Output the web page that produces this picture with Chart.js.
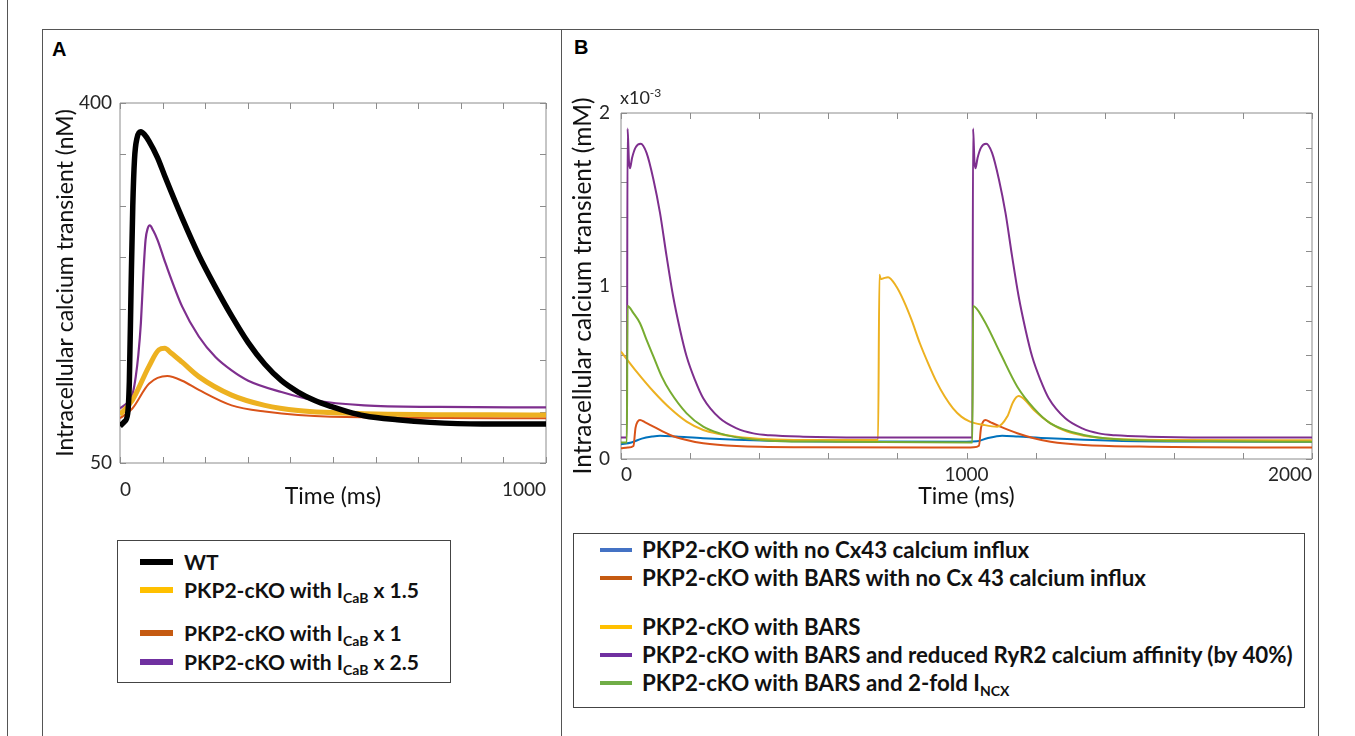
<!DOCTYPE html>
<html>
<head>
<meta charset="utf-8">
<script src="https://cdn.jsdelivr.net/npm/chart.js@4"></script>
<style>
  body { margin: 0; background: #fff; }
  #page { position: relative; width: 1355px; height: 736px; overflow: hidden; font-family: Lato, sans-serif; color: #111; }
  .line { position: absolute; background: #555; }
  .panel-tag { position: absolute; font: bold 20px "Liberation Sans", Arial, sans-serif; color: #000; }
  canvas { position: absolute; }
  .legend { position: absolute; border: 1.5px solid #444; box-sizing: border-box; }
  .row { position: absolute; left: 0; height: 26px; line-height: 26px; font-weight: 700; font-size: 21px; white-space: nowrap; color: #111; }
  #legB .row { font-size: 22.3px; }
  .row i { position: absolute; top: 10px; display: block; height: 6px; }
  .row span { position: absolute; }
  .row sub { font-size: 14px; vertical-align: -5px; line-height: 0; }
  #expo { position: absolute; left: 620px; top: 86px; font-size: 18px; color: #262626; }
  #expo sup { font-size: 12px; vertical-align: 7px; line-height: 0; }
</style>
</head>
<body>
<div id="page">
  <div class="line" style="left:7px; top:0; width:1px; height:736px;"></div>
  <div class="line" style="left:42px; top:29px; width:1277px; height:1px;"></div>
  <div class="line" style="left:42px; top:29px; width:1px; height:707px;"></div>
  <div class="line" style="left:561px; top:29px; width:1px; height:707px;"></div>
  <div class="line" style="left:1318px; top:29px; width:1px; height:707px;"></div>
  <div class="panel-tag" style="left:52px; top:38px;">A</div>
  <div class="panel-tag" style="left:574px; top:36px;">B</div>

  <canvas id="chartA" style="left:43px; top:30px;"></canvas>
  <canvas id="chartB" style="left:562px; top:30px;"></canvas>
  <div id="expo">x10<sup>-3</sup></div>

  <div class="legend" id="legA" style="left:117px; top:540px; width:334px; height:143px;"></div>
  <div class="legend" id="legB" style="left:573px; top:533px; width:732px; height:175px;"></div>
</div>

<script>
// ---- Panel A: intracellular Ca transient (nM), one beat ----
const wtTime  = [0, 10, 18, 22, 26, 30, 34, 40, 49, 58, 68, 88, 107, 146, 185, 224, 262, 301, 340, 379, 418, 456, 495, 534, 573, 651, 728, 850, 1000];
const wtCa    = [86, 90, 98, 130, 220, 300, 345, 366, 372, 369, 363, 347, 327, 288, 252, 221, 193, 167, 146, 130, 119, 111, 105, 100, 96, 92, 89.5, 88, 88];

const x15Time = [0, 29, 68, 91, 105, 120, 146, 185, 262, 340, 418, 573, 1000];
const x15Ca   = [97, 111, 144, 160, 161.5, 157, 148, 134, 116, 106, 101, 98, 96.6];

const x1Time  = [0, 29, 68, 111, 146, 185, 262, 340, 495, 1000];
const x1Ca    = [93.5, 103, 127, 134.5, 130, 121, 106, 100, 95, 93.5];

const x25Time = [0, 22, 30, 37, 43, 49, 55, 60, 65, 70, 78, 88, 107, 146, 185, 224, 262, 301, 379, 456, 573, 750, 1000];
const x25Ca   = [103, 111, 118, 134, 155, 186, 235, 267, 278, 281, 276, 267, 244, 202, 173, 153, 140, 130, 119, 111, 106, 104.5, 104];

const labelsA = ['WT', 'PKP2-cKO with I<sub>CaB</sub> x 1.5', '', 'PKP2-cKO with I<sub>CaB</sub> x 1', 'PKP2-cKO with I<sub>CaB</sub> x 2.5'];

// ---- Panel B: intracellular Ca transient (x10^-3 mM), two beats ----
const noCxTime = [0, 30, 60, 90, 113, 160, 238, 431, 700, 1000, 1030, 1060, 1103, 1150, 1238, 1431, 1700, 2000];
const noCxCa   = [0.085, 0.095, 0.118, 0.13, 0.135, 0.13, 0.12, 0.106, 0.101, 0.1, 0.102, 0.12, 0.135, 0.13, 0.12, 0.106, 0.101, 0.1];

const barsNoCxTime = [0, 20, 36, 42, 48, 55, 70, 94, 142, 190, 238, 335, 527, 1000, 1020, 1036, 1042, 1048, 1055, 1070, 1098, 1147, 1195, 1243, 1339, 1500, 2000];
const barsNoCxCa   = [0.062, 0.066, 0.075, 0.18, 0.215, 0.226, 0.212, 0.187, 0.139, 0.11, 0.091, 0.075, 0.068, 0.066, 0.068, 0.077, 0.18, 0.215, 0.226, 0.212, 0.187, 0.149, 0.12, 0.1, 0.081, 0.072, 0.066];

const barsTime = [0, 45, 94, 142, 190, 238, 335, 431, 527, 744, 748, 752, 760, 773, 797, 817, 841, 865, 889, 913, 937, 961, 985, 1010, 1050, 1089, 1118, 1135, 1151, 1170, 1195, 1243, 1291, 1339, 1436, 1629, 2000];
const barsCa   = [0.621, 0.505, 0.39, 0.293, 0.216, 0.168, 0.129, 0.114, 0.11, 0.11, 1.065, 1.04, 1.045, 1.051, 0.997, 0.92, 0.804, 0.669, 0.553, 0.447, 0.361, 0.293, 0.245, 0.216, 0.197, 0.187, 0.245, 0.33, 0.364, 0.34, 0.283, 0.206, 0.158, 0.135, 0.116, 0.11, 0.108];

const ryrTime = [0, 17, 19, 23, 26, 32, 42, 57, 74, 94, 113, 132, 151, 171, 190, 214, 238, 286, 335, 383, 431, 527, 700, 1017, 1019, 1023, 1026, 1032, 1042, 1057, 1074, 1094, 1113, 1132, 1151, 1171, 1190, 1214, 1238, 1286, 1335, 1383, 1431, 1527, 1700, 2000];
const ryrCa   = [0.125, 0.125, 1.91, 1.72, 1.68, 1.74, 1.8, 1.822, 1.769, 1.614, 1.421, 1.171, 0.939, 0.746, 0.592, 0.457, 0.351, 0.235, 0.177, 0.148, 0.137, 0.129, 0.125, 0.125, 1.91, 1.72, 1.68, 1.74, 1.8, 1.822, 1.769, 1.614, 1.421, 1.171, 0.939, 0.746, 0.592, 0.457, 0.351, 0.235, 0.177, 0.148, 0.137, 0.129, 0.125, 0.125];

const ncxTime = [0, 17, 19, 36, 55, 74, 94, 118, 142, 190, 238, 286, 335, 431, 624, 1017, 1019, 1050, 1098, 1147, 1195, 1243, 1339, 1436, 1700, 2000];
const ncxCa   = [0.096, 0.096, 0.885, 0.843, 0.785, 0.689, 0.592, 0.476, 0.39, 0.264, 0.187, 0.148, 0.125, 0.106, 0.1, 0.096, 0.885, 0.804, 0.611, 0.418, 0.293, 0.206, 0.139, 0.114, 0.102, 0.1];

const labelsB = ['PKP2-cKO with no Cx43 calcium influx', 'PKP2-cKO with BARS with no Cx 43 calcium influx', '',
  'PKP2-cKO with BARS', 'PKP2-cKO with BARS and reduced RyR2 calcium affinity (by 40%)', 'PKP2-cKO with BARS and 2-fold I<sub>NCX</sub>'];

const pts = (xs, ys) => xs.map((x, i) => ({ x: x, y: ys[i] }));

// box with inward tick marks on all four sides (MATLAB look)
const frameTicks = {
  id: 'frameTicks',
  beforeDatasetsDraw(chart) {
    const { ctx, chartArea: a, scales: { x, y } } = chart;
    ctx.save();
    ctx.strokeStyle = '#8c8c8c';
    ctx.lineWidth = 1;
    ctx.beginPath();
    ctx.rect(a.left, a.top, a.right - a.left, a.bottom - a.top);
    x.ticks.forEach(t => {
      const p = Math.round(x.getPixelForValue(t.value)) + 0.5;
      ctx.moveTo(p, a.bottom); ctx.lineTo(p, a.bottom - 6);
      ctx.moveTo(p, a.top); ctx.lineTo(p, a.top + 6);
    });
    y.ticks.forEach(t => {
      const p = Math.round(y.getPixelForValue(t.value)) + 0.5;
      ctx.moveTo(a.left, p); ctx.lineTo(a.left + 6, p);
      ctx.moveTo(a.right, p); ctx.lineTo(a.right - 6, p);
    });
    ctx.stroke();
    ctx.restore();
  }
};

const tickFont = { family: 'Lato', size: 19 };
const ink = '#262626';

function lineSet(label, data, color, width) {
  return { label: label, data: data, borderColor: color, backgroundColor: color, borderWidth: width,
    pointRadius: 0, cubicInterpolationMode: 'monotone', fill: false };
}

function makeChart(id, w, h, datasets, o) {
  const cv = document.getElementById(id);
  cv.width = w; cv.height = h;
  cv.style.width = w + 'px'; cv.style.height = h + 'px';
  return new Chart(cv, {
    type: 'line',
    data: { datasets: datasets },
    options: {
      responsive: false,
      animation: false,
      layout: { padding: o.pad },
      plugins: { legend: { display: false }, tooltip: { enabled: false } },
      scales: {
        x: {
          type: 'linear', min: o.xMin, max: o.xMax,
          grid: { display: false, drawTicks: false }, border: { display: false },
          afterFit: s => { s.height = o.xH; },
          ticks: { stepSize: o.xStep, autoSkip: false, maxRotation: 0, align: 'inner', font: tickFont, color: ink,
            padding: o.xTickPad, callback: v => (o.xLabels.includes(v) ? String(v) : '') },
          title: { display: true, text: 'Time (ms)', color: '#111', font: { family: 'Lato', size: o.xTitleSize },
            padding: { top: 0, bottom: o.xTitlePad } }
        },
        y: {
          min: o.yMin, max: o.yMax,
          grid: { display: false, drawTicks: false }, border: { display: false },
          afterFit: s => { s.width = o.yW; },
          ticks: { stepSize: o.yStep, autoSkip: false, font: tickFont, color: ink, padding: o.yTickPad,
            callback: v => (o.yLabels.some(l => Math.abs(l - v) < 1e-9) ? String(Math.round(v)) : '') },
          title: { display: true, text: o.yTitle, color: '#111', font: { family: 'Lato', size: o.yTitleSize },
            padding: { top: o.yTitlePad, bottom: 0 } }
        }
      }
    },
    plugins: [frameTicks]
  });
}

const colA = ['#000000', '#EDB120', '#D95319', '#7E2F8E'];
makeChart('chartA', 518, 480, [
  lineSet('x1', pts(x1Time, x1Ca), colA[2], 2),
  lineSet('x25', pts(x25Time, x25Ca), colA[3], 2.2),
  lineSet('x15', pts(x15Time, x15Ca), colA[1], 5),
  lineSet('WT', pts(wtTime, wtCa), colA[0], 5.5)
].reverse(), {
  pad: { top: 73, right: 11, left: 0, bottom: 0 }, xH: 47, yW: 77,
  xMin: 0, xMax: 1000, xStep: 100, xLabels: [0, 1000], xTickPad: 15, xTitlePad: 0,
  yMin: 50, yMax: 400, yStep: 50, yLabels: [50, 400], yTickPad: 8, yTitlePad: 9,
  xTitleSize: 23, yTitleSize: 23, yTitle: 'Intracellular calcium transient (nM)'
});

const colB = ['#0072BD', '#D95319', '#EDB120', '#7E2F8E', '#77AC30'];
makeChart('chartB', 756, 480, [
  lineSet('noCx', pts(noCxTime, noCxCa), colB[0], 2),
  lineSet('barsNoCx', pts(barsNoCxTime, barsNoCxCa), colB[1], 2),
  lineSet('bars', pts(barsTime, barsCa), colB[2], 2),
  lineSet('ryr', pts(ryrTime, ryrCa), colB[3], 2),
  lineSet('ncx', pts(ncxTime, ncxCa), colB[4], 2)
].reverse(), {
  pad: { top: 83, right: 6, left: 0, bottom: 0 }, xH: 51, yW: 59,
  xMin: 0, xMax: 2000, xStep: 200, xLabels: [0, 1000, 2000], xTickPad: 4, xTitlePad: 0,
  yMin: 0, yMax: 2, yStep: 0.2, yLabels: [0, 1, 2], yTickPad: 11, yTitlePad: 6,
  xTitleSize: 23, yTitleSize: 24.5, yTitle: 'Intracellular calcium transient (mM)'
});

// legends (HTML so the subscripts stay real text)
function buildLegend(id, labels, colors, rowsY, swX, swW, swH, textX) {
  const box = document.getElementById(id);
  let c = 0;
  labels.forEach((lab, i) => {
    if (!lab) return;
    const row = document.createElement('div');
    row.className = 'row';
    row.style.top = (rowsY[i] - 13) + 'px';
    row.innerHTML = '<i style="left:' + swX + 'px;width:' + swW + 'px;height:' + swH + 'px;top:' + (13 - swH / 2) +
      'px;background:' + colors[c++] + '"></i><span style="left:' + textX + 'px">' + lab + '</span>';
    box.appendChild(row);
  });
}
buildLegend('legA', labelsA, ['#000000', '#FFC000', '#C55A11', '#7030A0'], [21, 49, 0, 92, 121], 22, 33, 6, 66);
buildLegend('legB', labelsB, ['#4472C4', '#C55A11', '#FFC000', '#7030A0', '#70AD47'], [16, 44, 0, 93, 121, 149], 26, 32, 4, 68);
</script>
</body>
</html>
